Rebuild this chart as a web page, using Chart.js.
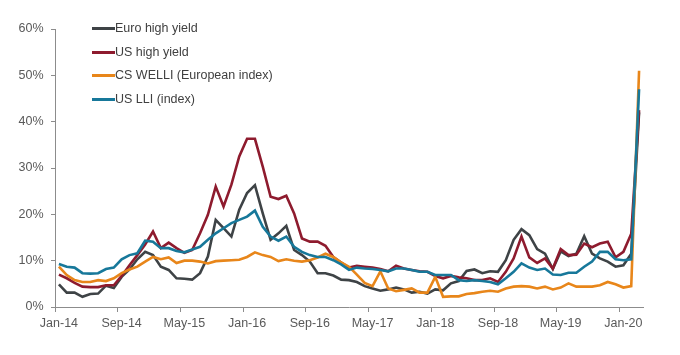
<!DOCTYPE html>
<html>
<head>
<meta charset="utf-8">
<script src="https://cdn.jsdelivr.net/npm/chart.js@4.4.1/dist/chart.umd.min.js"></script>
<style>
  html, body { margin: 0; padding: 0; background: #ffffff; }
  #wrap { position: relative; width: 680px; height: 355px; overflow: hidden; }
  #c { position: absolute; left: 0; top: 0; }
  .lg { position: absolute; left: 92px; height: 16px; font-family: "Liberation Sans", Arial, sans-serif; font-size: 12.5px; color: #404040; white-space: nowrap; }
  .lg span.sw { position: absolute; left: 0; top: 7px; width: 23px; height: 3px; }
  .lg span.tx { position: absolute; left: 23px; top: 0; line-height: 16px; }
</style>
</head>
<body>
<div id="wrap">
  <canvas id="c" width="680" height="355"></canvas>
</div>
<script>
// Categories (monthly, Jan-14 to Mar-20)
const categories = [
  "Jan-14","Feb-14","Mar-14","Apr-14","May-14","Jun-14","Jul-14","Aug-14","Sep-14","Oct-14","Nov-14","Dec-14",
  "Jan-15","Feb-15","Mar-15","Apr-15","May-15","Jun-15","Jul-15","Aug-15","Sep-15","Oct-15","Nov-15","Dec-15",
  "Jan-16","Feb-16","Mar-16","Apr-16","May-16","Jun-16","Jul-16","Aug-16","Sep-16","Oct-16","Nov-16","Dec-16",
  "Jan-17","Feb-17","Mar-17","Apr-17","May-17","Jun-17","Jul-17","Aug-17","Sep-17","Oct-17","Nov-17","Dec-17",
  "Jan-18","Feb-18","Mar-18","Apr-18","May-18","Jun-18","Jul-18","Aug-18","Sep-18","Oct-18","Nov-18","Dec-18",
  "Jan-19","Feb-19","Mar-19","Apr-19","May-19","Jun-19","Jul-19","Aug-19","Sep-19","Oct-19","Nov-19","Dec-19",
  "Jan-20","Feb-20","Mar-20"
];

// Series values (%)
const euroHighYield = [
  4.9,3.1,3.1,2.2,2.8,2.9,4.6,4.1,6.5,8.1,10.3,11.9,
  11.2,8.7,8.0,6.2,6.1,5.9,7.3,10.9,18.8,17.0,15.2,21.0,
  24.6,26.3,20.2,14.5,15.9,17.5,12.3,11.2,9.8,7.3,7.3,6.8,
  5.9,5.8,5.4,4.5,4.0,3.5,3.8,4.2,3.8,3.1,3.3,2.9,
  3.8,3.6,5.1,5.6,7.8,8.1,7.3,7.7,7.6,10.1,14.5,16.8,
  15.5,12.5,11.5,8.2,12.0,11.0,11.5,15.3,11.5,10.5,9.8,8.7,
  9.0,11.5,42.0
];
const usHighYield = [
  7.0,6.2,5.2,4.4,4.3,4.3,4.7,4.7,6.7,9.0,11.2,13.5,
  16.3,12.7,13.9,12.7,11.7,12.3,15.9,19.9,26.0,21.7,26.4,32.5,
  36.3,36.3,30.3,23.8,23.3,24.0,20.2,14.8,14.1,14.1,13.2,10.8,
  9.6,8.5,8.9,8.7,8.5,8.2,7.7,8.9,8.3,8.0,7.7,7.6,
  6.7,6.2,6.7,6.4,6.2,5.8,5.8,6.2,5.4,7.6,10.5,15.2,
  10.7,9.5,10.5,8.3,12.5,11.2,11.3,13.7,12.9,13.7,14.1,10.7,
  11.9,15.8,42.5
];
const csWelli = [
  8.7,6.9,5.8,5.4,5.4,5.8,5.6,6.2,7.3,8.1,8.7,9.8,
  10.8,10.3,10.7,9.5,10.0,10.0,9.8,9.4,9.9,10.0,10.1,10.2,
  10.8,11.8,11.2,10.8,9.9,10.3,10.0,9.8,10.1,10.7,11.5,10.8,
  9.6,8.7,7.0,5.2,4.5,7.7,4.0,3.4,3.7,4.0,3.1,3.1,
  6.5,2.2,2.3,2.3,2.8,3.0,3.3,3.5,3.3,4.0,4.4,4.5,
  4.4,4.0,4.4,3.8,4.2,5.1,4.4,4.4,4.4,4.7,5.4,4.9,
  4.2,4.5,51.0
];
const usLli = [
  9.3,8.7,8.5,7.3,7.2,7.3,8.2,8.5,10.3,11.2,11.6,14.3,
  14.1,12.7,12.7,12.1,11.8,12.4,13.0,14.5,15.9,17.0,18.1,18.8,
  19.5,20.8,17.3,15.2,14.3,15.2,13.0,11.9,11.2,10.8,10.8,10.1,
  9.2,8.0,8.5,8.3,8.2,8.0,7.7,8.3,8.3,8.0,7.6,7.6,
  6.9,6.9,6.9,5.8,5.6,5.8,5.6,5.4,4.9,6.2,7.6,9.4,
  8.5,8.0,8.3,7.0,6.9,7.4,7.4,8.7,9.8,11.9,11.9,10.3,
  10.1,10.3,47.0
];

// Y tick values
const yTicks = [0, 10, 20, 30, 40, 50, 60];

const seriesNames = ["Euro high yield", "US high yield", "CS WELLI (European index)", "US LLI (index)"];
const seriesColors = ["#3e4346", "#8e1b2e", "#e8861a", "#17789a"];

const axisColor = "#8c8c8c";
const textColor = "#595959";
const fontFamily = "'Liberation Sans', Arial, sans-serif";

const allSeries = [euroHighYield, usHighYield, csWelli, usLli];
const datasets = allSeries.map((d, i) => ({
  label: seriesNames[i],
  data: d,
  borderColor: seriesColors[i],
  backgroundColor: seriesColors[i],
  borderWidth: 2.6,
  pointRadius: 0,
  tension: 0,
  fill: false,
  order: 4 - i
}));

new Chart(document.getElementById('c'), {
  type: 'line',
  data: { labels: categories, datasets: datasets },
  options: {
    responsive: false,
    devicePixelRatio: 1,
    animation: false,
    layout: { padding: { left: 0, right: 37, top: 29, bottom: 0 } },
    plugins: { legend: { display: false }, tooltip: { enabled: false } },
    scales: {
      x: {
        type: 'category',
        offset: true,
        afterFit: (s) => { s.height = 48; },
        grid: {
          offset: true,
          drawOnChartArea: false,
          drawTicks: true,
          tickLength: 5,
          tickColor: (ctx) => (ctx.index !== undefined && ctx.index % 8 === 0 && ctx.index < categories.length) ? axisColor : 'rgba(0,0,0,0)',
          color: 'rgba(0,0,0,0)'
        },
        border: { display: true, color: axisColor, width: 1 },
        ticks: {
          autoSkip: false,
          maxRotation: 0,
          minRotation: 0,
          padding: 4,
          color: textColor,
          font: { family: fontFamily, size: 12.5 },
          callback: function(v, i) { return i % 8 === 0 ? categories[i] : ''; }
        }
      },
      y: {
        min: yTicks[0],
        max: yTicks[yTicks.length - 1],
        afterFit: (s) => { s.width = 55; },
        afterBuildTicks: (s) => { s.ticks = yTicks.map(v => ({ value: v })); },
        grid: {
          drawOnChartArea: false,
          drawTicks: true,
          tickLength: 4,
          tickColor: axisColor,
          color: 'rgba(0,0,0,0)'
        },
        border: { display: true, color: axisColor, width: 1 },
        ticks: {
          padding: 7.5,
          color: textColor,
          font: { family: fontFamily, size: 12.5 },
          callback: (v) => v + '%'
        }
      }
    }
  }
});

// HTML legend (real text)
const legendTops = [20, 43.5, 67, 91];
const wrap = document.getElementById('wrap');
seriesNames.forEach((name, i) => {
  const d = document.createElement('div');
  d.className = 'lg';
  d.style.top = legendTops[i] + 'px';
  const sw = document.createElement('span');
  sw.className = 'sw';
  sw.style.background = seriesColors[i];
  const tx = document.createElement('span');
  tx.className = 'tx';
  tx.textContent = name;
  d.appendChild(sw);
  d.appendChild(tx);
  wrap.appendChild(d);
});
</script>
</body>
</html>
